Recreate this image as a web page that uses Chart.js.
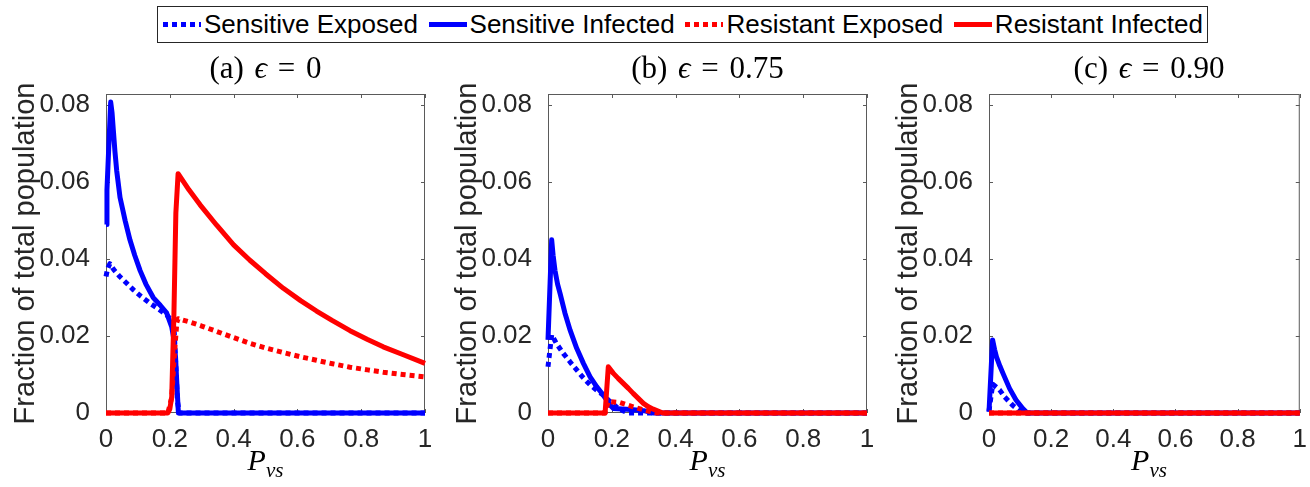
<!DOCTYPE html>
<html>
<head>
<meta charset="utf-8">
<script src="https://cdn.jsdelivr.net/npm/chart.js@4.4.1/dist/chart.umd.min.js"></script>
<style>
    body { margin: 0; background: #fff; width: 1310px; height: 487px; overflow: hidden; position: relative; font-family: "Liberation Sans", Arial, sans-serif; }
    canvas { position: absolute; top: 0; }
    #legend { position: absolute; left: 157px; top: 6px; width: 1040px; height: 35px; padding: 0 4px 0 5px; border: 1px solid #262626; display: flex; justify-content: space-between; align-items: center; font-size: 26px; color: #000; box-sizing: content-box; }
    .item { display: flex; align-items: center; white-space: nowrap; }
    .sample { width: 38px; height: 5px; margin-right: 3px; }
    .ptitle { position: absolute; top: 50px; font-family: "Liberation Serif", "DejaVu Serif", serif; font-size: 31px; word-spacing: 3px; color: #000; text-align: center; white-space: nowrap; transform: translateX(-50%); }
    .xlabel { position: absolute; top: 443px; font-family: "Liberation Serif", "DejaVu Serif", serif; font-size: 30px; font-style: italic; transform: translateX(-50%); }
    .xlabel sub { font-size: 21px; vertical-align: -7px; }
</style>
</head>
<body>
<div id="legend"></div>

<script>
/* ---------- datos ---------- */
const seriesNames = ['Sensitive Exposed', 'Sensitive Infected', 'Resistant Exposed', 'Resistant Infected'];
const seriesColors = ['#0000ff', '#0000ff', '#ff0000', '#ff0000'];
const seriesDotted = [true, false, true, false];

const panelTitles = ['(a)', '(b)', '(c)'];
const epsilonValues = ['0', '0.75', '0.90'];

const xTicks = [0, 0.2, 0.4, 0.6, 0.8, 1];
const yTicks = [0, 0.02, 0.04, 0.06, 0.08];
const yMax = 0.0829;

// (a) epsilon = 0
const aSensExpX = [0, 0.005, 0.012, 0.025, 0.044, 0.065, 0.086, 0.11, 0.138, 0.165, 0.19, 0.206, 0.214, 0.219, 0.224, 0.23, 1];
const aSensExpY = [0.0355, 0.0375, 0.0388, 0.0372, 0.0354, 0.0337, 0.032, 0.0303, 0.0285, 0.027, 0.0255, 0.024, 0.021, 0.012, 0.003, 0, 0];
const aSensInfX = [0, 0.003, 0.0147, 0.019, 0.023, 0.028, 0.0335, 0.044, 0.052, 0.06, 0.075, 0.09, 0.107, 0.125, 0.148, 0.17, 0.19, 0.206, 0.213, 0.218, 0.2215, 0.225, 0.227, 1];
const aSensInfY = [0.049, 0.058, 0.0808, 0.078, 0.0735, 0.068, 0.063, 0.056, 0.053, 0.050, 0.045, 0.041, 0.037, 0.0335, 0.030, 0.028, 0.026, 0.0224, 0.019, 0.0145, 0.0086, 0.003, 0, 0];
const aResExpX = [0, 0.194, 0.206, 0.215, 0.222, 0.226, 0.26, 0.3, 0.347, 0.4, 0.451, 0.5, 0.556, 0.61, 0.66, 0.71, 0.765, 0.82, 0.869, 0.93, 1];
const aResExpY = [0, 0, 0.004, 0.016, 0.0235, 0.0245, 0.0237, 0.0226, 0.0212, 0.0196, 0.0181, 0.0169, 0.0157, 0.0146, 0.0137, 0.0128, 0.0119, 0.0112, 0.0106, 0.0100, 0.0094];
const aResInfX = [0, 0.194, 0.2, 0.206, 0.213, 0.219, 0.226, 0.26, 0.295, 0.347, 0.4, 0.451, 0.5, 0.556, 0.61, 0.66, 0.71, 0.765, 0.82, 0.869, 0.93, 1];
const aResInfY = [0, 0, 0.001, 0.0042, 0.026, 0.052, 0.0622, 0.058, 0.0541, 0.0488, 0.0437, 0.0397, 0.0362, 0.0324, 0.0292, 0.0265, 0.024, 0.0214, 0.0191, 0.0172, 0.0152, 0.0129];

// (b) epsilon = 0.75
const bSensExpX = [0, 0.0115, 0.027, 0.048, 0.069, 0.09, 0.11, 0.132, 0.153, 0.173, 0.194, 0.22, 0.25, 1];
const bSensExpY = [0.012, 0.0203, 0.018, 0.0155, 0.0133, 0.0112, 0.0092, 0.0073, 0.0059, 0.0047, 0.003, 0.0012, 0, 0];
const bSensInfX = [0, 0.0115, 0.016, 0.022, 0.03, 0.038, 0.053, 0.069, 0.09, 0.111, 0.132, 0.153, 0.17, 0.184, 0.195, 0.205, 0.26, 0.3, 0.33, 1];
const bSensInfY = [0.019, 0.045, 0.041, 0.037, 0.0335, 0.031, 0.026, 0.0216, 0.0168, 0.0129, 0.0094, 0.0068, 0.005, 0.0034, 0.002, 0.0012, 0.0009, 0.0006, 0, 0];
const bResExpX = [0, 0.179, 0.189, 0.226, 0.267, 0.309, 0.34, 1];
const bResExpY = [0, 0, 0.003, 0.0027, 0.0016, 0.0006, 0, 0];
const bResInfX = [0, 0.179, 0.189, 0.205, 0.22, 0.236, 0.252, 0.267, 0.283, 0.299, 0.315, 0.33, 0.36, 1];
const bResInfY = [0, 0, 0.012, 0.0103, 0.009, 0.0077, 0.0064, 0.0051, 0.0038, 0.0025, 0.0016, 0.001, 0, 0];

// (c) epsilon = 0.90
const cSensExpX = [0, 0.012, 0.034, 0.05, 0.076, 0.095, 0.11, 1];
const cSensExpY = [0.0005, 0.0075, 0.006, 0.0042, 0.002, 0.0008, 0, 0];
const cSensInfX = [0, 0.0115, 0.018, 0.024, 0.035, 0.045, 0.066, 0.087, 0.108, 0.123, 1];
const cSensInfY = [0.0003, 0.019, 0.0165, 0.0146, 0.0122, 0.0103, 0.0064, 0.0034, 0.0012, 0, 0];
const cResExpX = [0, 1];
const cResExpY = [0, 0];
const cResInfX = [0, 1];
const cResInfY = [0, 0];

const panelData = [
    [[aSensExpX, aSensExpY], [aSensInfX, aSensInfY], [aResExpX, aResExpY], [aResInfX, aResInfY]],
    [[bSensExpX, bSensExpY], [bSensInfX, bSensInfY], [bResExpX, bResExpY], [bResInfX, bResInfY]],
    [[cSensExpX, cSensExpY], [cSensInfX, cSensInfY], [cResExpX, cResExpY], [cResInfX, cResInfY]]
];

/* ---------- maquetación ---------- */
const H = 487;
const PLOT_TOP = 94, PLOT_BOTTOM = 413, AXIS_W = 106;
const panels = [
    { left: 0, width: 440, plotRight: 425 },
    { left: 442, width: 440, plotRight: 867 },
    { left: 883, width: 427, plotRight: 1309 }   // el último panel queda cortado por el borde
];
const axisColor = '#262626';

// Leyenda (HTML)
const legend = document.getElementById('legend');
seriesNames.forEach((name, i) => {
    const item = document.createElement('div');
    item.className = 'item';
    const sample = document.createElement('span');
    sample.className = 'sample';
    sample.style.background = seriesDotted[i]
        ? `repeating-linear-gradient(90deg, ${seriesColors[i]} 0 5px, transparent 5px 9px)`
        : seriesColors[i];
    const label = document.createElement('span');
    label.textContent = name;
    item.appendChild(sample);
    item.appendChild(label);
    legend.appendChild(item);
});

// Caja y marcas hacia dentro, estilo MATLAB
const axesBox = {
    id: 'axesBox',
    beforeDatasetsDraw(chart) {
        const { ctx, chartArea: a, scales: { x, y } } = chart;
        ctx.save();
        ctx.strokeStyle = '#5a5a5a';
        ctx.lineWidth = 1;
        ctx.strokeRect(a.left + 0.5, a.top + 0.5, a.right - a.left - 1, a.bottom - a.top - 1);
        ctx.beginPath();
        x.ticks.forEach(t => {
            const px = Math.round(x.getPixelForValue(t.value)) + 0.5;
            ctx.moveTo(px, a.bottom); ctx.lineTo(px, a.bottom - 4);
            ctx.moveTo(px, a.top); ctx.lineTo(px, a.top + 4);
        });
        y.ticks.forEach(t => {
            const py = Math.round(y.getPixelForValue(t.value)) + 0.5;
            ctx.moveTo(a.left, py); ctx.lineTo(a.left + 4, py);
            ctx.moveTo(a.right, py); ctx.lineTo(a.right - 4, py);
        });
        ctx.stroke();
        ctx.restore();
    }
};

panels.forEach((p, k) => {
    const canvas = document.createElement('canvas');
    canvas.width = p.width;
    canvas.height = H;
    canvas.style.left = p.left + 'px';
    document.body.appendChild(canvas);

    const datasets = panelData[k].map(([xs, ys], i) => ({
        label: seriesNames[i],
        data: xs.map((xv, j) => ({ x: xv, y: ys[j] })),
        borderColor: seriesColors[i],
        borderWidth: 5,
        borderDash: seriesDotted[i] ? [5, 4] : [],
        borderCapStyle: 'butt',
        borderJoinStyle: 'round',
        pointRadius: 0,
        tension: 0,
        clip: 3,   // que la línea en y=0 se vea entera
        fill: false,
        order: 4 - i
    }));

    new Chart(canvas.getContext('2d'), {
        type: 'line',
        data: { datasets },
        options: {
            responsive: false,
            animation: false,
            devicePixelRatio: 1,
            layout: { padding: { top: PLOT_TOP, right: p.left + p.width - p.plotRight, left: 0, bottom: 0 } },
            plugins: { legend: { display: false }, tooltip: { enabled: false } },
            scales: {
                x: {
                    type: 'linear', min: 0, max: 1,
                    grid: { display: false }, border: { display: false },
                    afterBuildTicks: s => { s.ticks = xTicks.map(v => ({ value: v })); },
                    afterFit: s => { s.height = H - PLOT_BOTTOM; },
                    ticks: {
                        color: axisColor, padding: 3, autoSkip: false, maxRotation: 0,
                        font: { family: '"Liberation Sans", Arial, sans-serif', size: 26 },
                        callback: v => String(v)
                    }
                },
                y: {
                    type: 'linear', min: 0, max: yMax,
                    grid: { display: false }, border: { display: false },
                    afterBuildTicks: s => { s.ticks = yTicks.map(v => ({ value: v })); },
                    afterFit: s => { s.width = AXIS_W; },
                    ticks: {
                        color: axisColor, padding: 8,
                        font: { family: '"Liberation Sans", Arial, sans-serif', size: 26 },
                        callback: v => String(v)
                    },
                    title: {
                        display: true, text: 'Fraction of total population', color: axisColor,
                        padding: { top: 11, bottom: 0 },
                        font: { family: '"Liberation Sans", Arial, sans-serif', size: 29, lineHeight: 1 }
                    }
                }
            }
        },
        plugins: [axesBox]
    });

    const cx = (p.left + AXIS_W + p.plotRight) / 2;
    const t = document.createElement('div');
    t.className = 'ptitle';
    t.style.left = cx + 'px';
    t.innerHTML = `${panelTitles[k]} <i>ϵ</i> = ${epsilonValues[k]}`;
    document.body.appendChild(t);

    const xl = document.createElement('div');
    xl.className = 'xlabel';
    xl.style.left = cx + 'px';
    xl.innerHTML = 'P<sub>vs</sub>';
    document.body.appendChild(xl);
});
</script>
</body>
</html>
